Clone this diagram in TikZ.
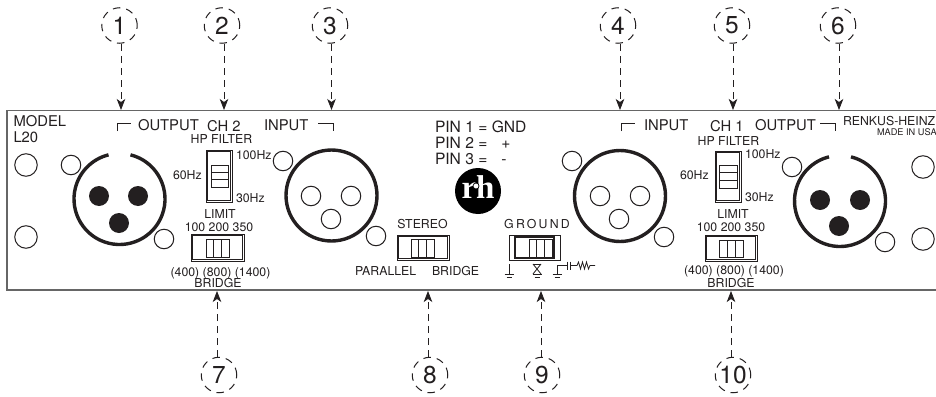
\documentclass[tikz,border=0pt]{standalone}
\usepackage{fontspec}
\setmainfont{TeX Gyre Heros}
\newfontfamily\spacedfont[LetterSpace=18]{TeX Gyre Heros}
\newfontfamily\logofont{Liberation Serif}
\usetikzlibrary{arrows.meta}
\definecolor{ink}{HTML}{231F20}
\definecolor{panelline}{HTML}{666666}
\tikzset{
  x=1pt,y=-1pt,
  txt/.style={inner sep=0pt,outer sep=0pt,text=ink,anchor=base west},
  ctxt/.style={txt,anchor=base},
  big/.style={font=\fontsize{14.8}{16}\selectfont},
  pin/.style={font=\fontsize{15.6}{16}\selectfont},
  mid/.style={font=\fontsize{12.3}{14}\selectfont},
  callout/.style={circle,draw=ink,line width=1pt,dash pattern=on 7.5pt off 6pt,minimum size=35.5pt,inner sep=0pt,text=ink,font=\fontsize{24.5}{26}\selectfont},
  leader/.style={draw=ink,line width=0.8pt,dash pattern=on 7pt off 5pt,-{Stealth[length=11pt,width=8.5pt,inset=3pt,sep=0pt]}},
  hole/.style={circle,draw=ink,line width=1pt,inner sep=0pt,outer sep=0pt,minimum size=19.5pt},
  mount/.style={hole,minimum size=22.5pt},
  socket/.style={circle,fill=ink,inner sep=0pt,outer sep=0pt,minimum size=20pt},
  ring/.style={draw=ink,line width=3.4pt},
  thin/.style={draw=ink,line width=0.8pt},
  swline/.style={draw=ink,line width=0.95pt},
}
% id, label, cx, cy, arrow x, arrow start y, arrow end y
\newcommand\callouthere[7]{%
  \node[callout] (c#1) at (#3,#4) {#2};
  \coordinate (s#1) at (#5,#6);
  \coordinate (e#1) at (#5,#7);
  \draw[leader,dash phase=0pt] (s#1) -- (e#1);
}
% outer x1 y1 x2 y2 (double frame), inner x1 y1 x2 y2 (three cells side by side)
\newcommand\slidesw[8]{%
  \draw[swline] (#1,#2) rectangle (#3,#4);
  \draw[swline] (#1+1.5,#2+1.5) rectangle (#3-1.5,#4-1.5);
  \draw[thin] (#5,#6) rectangle (#7,#8);
  \draw[thin] ({#5+(#7-#5)/3},#6) -- ({#5+(#7-#5)/3},#8);
  \draw[thin] ({#5+2*(#7-#5)/3},#6) -- ({#5+2*(#7-#5)/3},#8);
}
% same, three cells stacked
\newcommand\vertsw[8]{%
  \draw[swline] (#1,#2) rectangle (#3,#4);
  \draw[swline] (#1+1.5,#2+1.5) rectangle (#3-1.5,#4-1.5);
  \draw[thin] (#5,#6) rectangle (#7,#8);
  \draw[thin] (#5,{#6+(#8-#6)/3}) -- (#7,{#6+(#8-#6)/3});
  \draw[thin] (#5,{#6+2*(#8-#6)/3}) -- (#7,{#6+2*(#8-#6)/3});
}
\begin{document}
\begin{tikzpicture}
\clip (0,0) rectangle (936,396);
\fill[white] (0,0) rectangle (936,396);
% panel
\draw[draw=panelline,line width=1.4pt] (7,110.5) rectangle (950,290);

% call-outs
\callouthere{1}{1}{119.5}{25.5}{121}{44}{110}
\callouthere{2}{2}{222}{25.5}{224}{44}{110}
\callouthere{3}{3}{330}{25.5}{331.5}{44}{110}
\callouthere{4}{4}{618}{25.5}{620}{44}{110}
\callouthere{5}{5}{732}{25.5}{733}{44}{110}
\callouthere{6}{6}{838}{25.5}{839}{44}{110}
\callouthere{7}{7}{219}{375}{217}{357}{291}
\callouthere{8}{8}{430}{375}{428}{357}{291}
\callouthere{9}{9}{542}{375}{541}{357}{291}
\callouthere{10}{10}{733}{375}{731}{357}{291}

% panel labels, left
\node[txt,big] (model) at (13.5,126) {MODEL};
\node[txt,big] (lt) at (13.5,142) {L20};
\node[txt,big] (outl) at (138,130) {OUTPUT};
\node[txt,big] (chtwo) at (207,131) {CH 2};
\node[txt,big] (inl) at (264,130) {INPUT};
\draw[thin] (117,131) -- (117,123) -- (131,123);
\draw[thin] (318,123) -- (333,123) -- (333,131);
\node[ctxt,mid] (hpl) at (221.5,143) {HP FILTER};
\node[txt,mid] (hza) at (236,159) {100Hz};
\node[txt,mid] (hzb) at (173,179) {60Hz};
\node[txt,mid] (hzc) at (236,202) {30Hz};
\node[ctxt,mid] (liml) at (220,218) {LIMIT};
\node[ctxt,mid] (vall) at (219,231) {100 200 350};
\node[ctxt,mid] (brl) at (220.5,276) {(400) (800) (1400)};
\node[ctxt,mid] (brbl) at (218,287) {BRIDGE};

% panel labels, centre
\node[txt,pin] (pa) at (435,132) {PIN 1 = GND};
\node[txt,pin] (pb) at (435,148) {PIN 2 =};
\node[txt,pin] (pc) at (435,164) {PIN 3 =};
\node[ctxt,pin] (plus) at (506,148) {+};
\node[ctxt,pin] (minus) at (504,164) {-};
\node[ctxt,mid] (ster) at (422.5,228) {STEREO};
\node[txt,mid] (par) at (355,275) {PARALLEL};
\node[txt,mid] (brc) at (432,275) {BRIDGE};
\node[ctxt,mid,font=\spacedfont\fontsize{12.3}{14}\selectfont] (gnd) at (537,228) {GROUND};

% panel labels, right
\node[txt,big] (inr) at (644,130) {INPUT};
\node[txt,big] (chone) at (710,131) {CH 1};
\node[txt,big] (outr) at (755,130) {OUTPUT};
\draw[thin] (621,131) -- (621,123) -- (635,123);
\draw[thin] (820,123) -- (835,123) -- (835,131);
\node[txt,mid] (ren) at (843,125) {RENKUS-HEINZ};
\node[txt,font=\fontsize{9.2}{10}\selectfont] (usa) at (877,135) {MADE IN USA};
\node[ctxt,mid] (hpr) at (728.5,145) {HP FILTER};
\node[txt,mid] (hzd) at (745,158) {100Hz};
\node[txt,mid] (hze) at (680,179) {60Hz};
\node[txt,mid] (hzf) at (745,201) {30Hz};
\node[ctxt,mid] (limr) at (733,218) {LIMIT};
\node[ctxt,mid] (valr) at (731,231) {100 200 350};
\node[ctxt,mid] (brr) at (734,274) {(400) (800) (1400)};
\node[ctxt,mid] (brbr) at (731,287) {BRIDGE};

% mounting holes
\node[mount] (ma) at (26,165) {};
\node[mount] (mb) at (26,237) {};
\node[mount] (mc) at (923,167) {};
\node[mount] (md) at (923,239) {};
\node[hole] (h1) at (71,165) {};
\node[hole] (h2) at (164,239) {};
\node[hole] (h3) at (283,161) {};
\node[hole] (h4) at (376,236) {};
\node[hole] (h5) at (572,161) {};
\node[hole] (h6) at (664,237) {};
\node[hole] (h7) at (792,167) {};
\node[hole] (h8) at (885,242) {};

% XLR output left
\coordinate (xa) at (119.5,199);
\draw[ring] (xa) ++(76:45.5pt) arc[start angle=76,end angle=-256,radius=45.5pt];
\node[socket] (xa1) at (99,196) {};
\node[socket] (xa2) at (138,196) {};
\node[socket] (xa3) at (119,223) {};
% XLR input left
\node[circle,ring,minimum size=91pt,inner sep=0pt] (xb) at (331.5,195.5) {};
\node[hole] (xb1) at (311,196) {};
\node[hole] (xb2) at (351,196) {};
\node[hole] (xb3) at (331,219) {};
% XLR input right
\node[circle,ring,minimum size=91pt,inner sep=0pt] (xc) at (620,196) {};
\node[hole] (xc1) at (600,196) {};
\node[hole] (xc2) at (640,196) {};
\node[hole] (xc3) at (619,219) {};
% XLR output right
\coordinate (xd) at (840,201);
\draw[ring] (xd) ++(76:45.5pt) arc[start angle=76,end angle=-256,radius=45.5pt];
\node[socket] (xd1) at (820,200) {};
\node[socket] (xd2) at (860,200) {};
\node[socket] (xd3) at (839,226) {};

% switches
\vertsw{206}{150}{232}{202}{211}{165}{228}{187}
\slidesw{191}{234}{244}{261}{206}{239}{229}{257}
\slidesw{397}{235}{449}{260}{411}{239}{434}{257}
\vertsw{715}{151}{741}{202}{719}{165}{737}{188}
\slidesw{705}{235}{757}{261}{719}{240}{743}{257}
% ground switch
\draw[swline] (509,235) rectangle (560,260);
\draw[swline,line width=1.2pt] (515,237) rectangle (554,258);
\draw[thin] (529,239) rectangle (552,257);
\draw[thin] (536.7,239) -- (536.7,257);
\draw[thin] (544.3,239) -- (544.3,257);

% ground symbols
\draw[thin] (509,264) -- (509,274);
\draw[thin] (504.5,274) -- (513.5,274);
\draw[thin] (506.5,277) -- (511.5,277);
\draw[thin] (533,264) -- (541,264);
\draw[thin] (533,264) -- (541,274);
\draw[thin] (541,264) -- (533,274);
\draw[thin] (532.5,274) -- (541.5,274);
\draw[thin] (534.5,277) -- (539.5,277);
\draw[thin] (552.5,274) -- (561.5,274);
\draw[thin] (554.5,277) -- (559.5,277);
\draw[thin] (557,274) -- (557,265.5) -- (567,265.5);
\draw[thin] (567,261.5) -- (567,269.5);
\draw[thin] (570.5,261.5) -- (570.5,269.5);
\draw[thin] (570.5,265.5) -- (577,265.5) -- (578.5,262) -- (580.5,269) -- (582.5,262) -- (584.5,269) -- (586.5,262) -- (588.5,269) -- (590,265.5) -- (595,265.5);

% logo
\node[circle,fill=black,minimum size=46pt,inner sep=0pt] (logo) at (478,191) {};
\node[inner sep=0pt,anchor=base,text=white,font=\logofont\bfseries\fontsize{33}{34}\selectfont] (logot) at (478,198.5) {rh};
\node[circle,fill=white,draw=black,line width=0.7pt,minimum size=6pt,inner sep=0pt] (logod) at (476,186) {};
\end{tikzpicture}
\end{document}
